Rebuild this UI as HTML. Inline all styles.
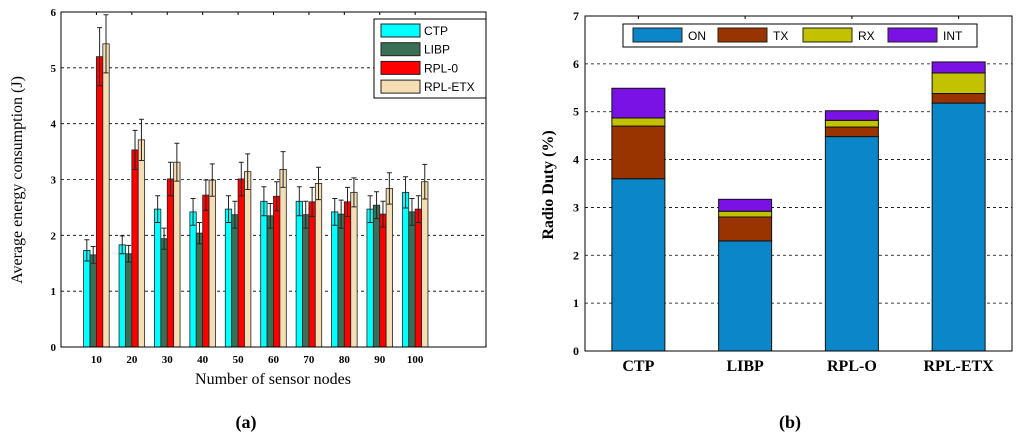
<!DOCTYPE html>
<html><head><meta charset="utf-8"><style>
html,body{margin:0;padding:0;background:#fff;width:1024px;height:440px;overflow:hidden}
svg text{font-family:"Liberation Serif",serif}
</style></head><body>
<svg id="svg" width="1024" height="440" xmlns="http://www.w3.org/2000/svg"></svg>
<script>
// ---- Chart (a) data ----
const nodeCounts = [10,20,30,40,50,60,70,80,90,100];
const seriesA = ["CTP","LIBP","RPL-0","RPL-ETX"];
const ctpVals  = [1.73,1.83,2.47,2.42,2.47,2.61,2.61,2.42,2.47,2.77];
const libpVals = [1.65,1.67,1.94,2.04,2.37,2.35,2.37,2.38,2.54,2.42];
const rplVals  = [5.20,3.53,3.01,2.72,3.01,2.70,2.60,2.60,2.38,2.47];
const etxVals  = [5.43,3.71,3.31,2.99,3.14,3.18,2.93,2.77,2.84,2.96];
const ctpErr   = [0.19,0.16,0.24,0.24,0.24,0.26,0.26,0.24,0.24,0.28];
const libpErr  = [0.15,0.15,0.19,0.19,0.24,0.22,0.24,0.25,0.24,0.24];
const rplErr   = [0.52,0.35,0.30,0.27,0.30,0.26,0.26,0.26,0.23,0.24];
const etxErr   = [0.52,0.37,0.34,0.29,0.32,0.32,0.29,0.26,0.28,0.31];
const yTicksA  = [0,1,2,3,4,5,6];
// ---- Chart (b) data ----
const protocols = ["CTP","LIBP","RPL-O","RPL-ETX"];
const stackNames = ["ON","TX","RX","INT"];
const onVals  = [3.60,2.30,4.48,5.18];
const txVals  = [1.10,0.50,0.20,0.20];
const rxVals  = [0.17,0.12,0.14,0.43];
const intVals = [0.62,0.25,0.20,0.23];
const yTicksB = [0,1,2,3,4,5,6,7];

const NS="http://www.w3.org/2000/svg";
const svg=document.getElementById('svg');
function mk(tag,attrs,parent){const e=document.createElementNS(NS,tag);for(const k in attrs)e.setAttribute(k,attrs[k]);(parent||svg).appendChild(e);return e;}

// ===== Chart A =====
const A={l:61,r:486,t:12,b:347,ymax:6,xmax:12};
const xA=v=>A.l+(A.r-A.l)*v/A.xmax;
const yA=v=>A.b-(A.b-A.t)*v/A.ymax;
const gA=mk('g',{});


yTicksA.forEach(t=>{
  if(t>0&&t<6){const g=mk('line',{x1:A.l,x2:A.r,y1:yA(t),y2:yA(t),stroke:'#000','stroke-dasharray':'3,3','stroke-width':0.8},gA);
    }
  const tx=mk('text',{x:A.l-5,y:yA(t)+4,'text-anchor':'end','font-size':11,'font-weight':'bold'},gA);
  tx.textContent=t;
  
  
});
const colsA=['#00ffff','#3a6f55','#ff0000','#f5deb3'];
const valsA=[ctpVals,libpVals,rplVals,etxVals];
const errsA=[ctpErr,libpErr,rplErr,etxErr];
const bw=6.4;
nodeCounts.forEach((n,i)=>{
  const cx=xA(i+1);
  for(let s=0;s<4;s++){
    const x=cx+(s-2)*bw;
    const v=valsA[s][i],e=errsA[s][i];
    const r=mk('rect',{x:x,y:yA(v),width:bw,height:yA(0)-yA(v),fill:colsA[s],stroke:'#222','stroke-width':0.8},gA);
    
    
    const mx=x+bw/2;
    const el=mk('path',{d:`M${mx},${yA(v-e)}V${yA(v+e)}M${mx-2.5},${yA(v+e)}H${mx+2.5}M${mx-2.5},${yA(v-e)}H${mx+2.5}`,stroke:'#222','stroke-width':1,fill:'none'},gA);
    
    
  }
  const t=mk('text',{x:cx,y:A.b+16,'text-anchor':'middle','font-size':11,'font-weight':'bold'},gA);
  t.textContent=n;
  
  
  mk('line',{x1:cx,x2:cx,y1:A.t,y2:A.t+3,stroke:'#000'},gA);
});
mk('rect',{x:A.l,y:A.t,width:A.r-A.l,height:A.b-A.t,fill:'none',stroke:'#000','stroke-width':1},gA);
// legend A
const lgA=mk('g',{},gA);


mk('rect',{x:374,y:19,width:112,height:79,fill:'#fff',stroke:'#000'},lgA);
seriesA.forEach((s,k)=>{
  const y=24+k*18.7;
  const sw=mk('rect',{x:381,y:y,width:39,height:13,fill:colsA[k],stroke:'#222'},lgA);
  
  const t=mk('text',{x:424,y:y+11,'font-size':12},lgA);
  t.setAttribute('style','font-family:"Liberation Sans",sans-serif');
  t.textContent=s;
  
  
});
const xlA=mk('text',{x:273,y:384,'text-anchor':'middle','font-size':16},gA);
xlA.textContent='Number of sensor nodes';

const ylA=mk('text',{x:0,y:0,'text-anchor':'middle','font-size':16,transform:'translate(22,180) rotate(-90)'},gA);
ylA.textContent='Average energy consumption (J)';

const ca=mk('text',{x:246,y:428,'text-anchor':'middle','font-size':18,'font-weight':'bold'});
ca.textContent='(a)';


// ===== Chart B =====
const B={l:585,r:1012,t:16,b:351,ymax:7};
const xB=v=>B.l+(B.r-B.l)*(v+0.5)/4;
const yB=v=>B.b-(B.b-B.t)*v/B.ymax;
const gB=mk('g',{});


yTicksB.forEach(t=>{
  if(t>0&&t<7){const g=mk('line',{x1:B.l,x2:B.r,y1:yB(t),y2:yB(t),stroke:'#000','stroke-dasharray':'3,3','stroke-width':0.8},gB);
    }
  const tx=mk('text',{x:B.l-6,y:yB(t)+4,'text-anchor':'end','font-size':12,'font-weight':'bold'},gB);
  tx.textContent=t;
  
  
});
const colsB=['#0b86c8','#993300','#c2c200','#7a12e6'];
const stacks=[onVals,txVals,rxVals,intVals];
protocols.forEach((p,i)=>{
  const cx=xB(i);let base=0;
  for(let s=0;s<4;s++){
    const v=stacks[s][i];
    const r=mk('rect',{x:cx-26.5,y:yB(base+v),width:53,height:yB(base)-yB(base+v),fill:colsB[s],stroke:'#111','stroke-width':1},gB);
    
    
    base+=v;
  }
  mk('line',{x1:cx,x2:cx,y1:B.t,y2:B.t+3,stroke:'#000'},gB);
  const t=mk('text',{x:cx,y:B.b+20,'text-anchor':'middle','font-size':16,'font-weight':'bold'},gB);
  t.textContent=p;
  
  
});
mk('rect',{x:B.l,y:B.t,width:B.r-B.l,height:B.b-B.t,fill:'none',stroke:'#000','stroke-width':1},gB);
const lgB=mk('g',{},gB);


mk('rect',{x:623,y:24,width:354,height:23,fill:'#fff',stroke:'#000'},lgB);
stackNames.forEach((s,k)=>{
  const x=633+k*85;
  const sw=mk('rect',{x:x,y:28,width:49,height:14,fill:colsB[k],stroke:'#222'},lgB);
  
  const t=mk('text',{x:x+55,y:40,'font-size':12},lgB);
  t.setAttribute('style','font-family:"Liberation Sans",sans-serif');
  t.textContent=s;
  
  
});
const ylB=mk('text',{x:0,y:0,'text-anchor':'middle','font-size':16,'font-weight':'bold',transform:'translate(553,185) rotate(-90)'},gB);
ylB.textContent='Radio Duty (%)';

const cb=mk('text',{x:790,y:428,'text-anchor':'middle','font-size':18,'font-weight':'bold'});
cb.textContent='(b)';

</script>
</body></html>
